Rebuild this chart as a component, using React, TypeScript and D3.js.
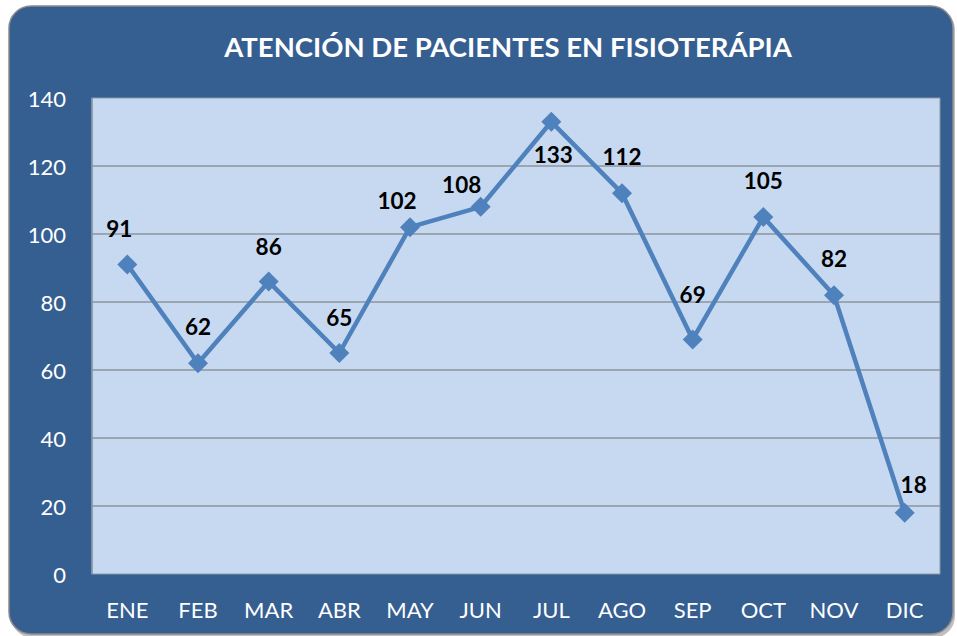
import React from "react";
import * as d3 from "d3";

const months = ["ENE", "FEB", "MAR", "ABR", "MAY", "JUN", "JUL", "AGO", "SEP", "OCT", "NOV", "DIC"];
const patients = [91, 62, 86, 65, 102, 108, 133, 112, 69, 105, 82, 18];
const yTicks = [0, 20, 40, 60, 80, 100, 120, 140];
const title = "ATENCIÓN DE PACIENTES EN FISIOTERÁPIA";

// data-label placement relative to each marker (pixels), as laid out in the original
const labelDx = [-8, 0, 0, 0, -13, -19, 2, 0, 0, 0, 0, 9];
const labelDy = [-36, -37, -35, -36, -27, -22, 33, -37, -45, -37, -37, -28];

const W = 957;
const H = 636;
const plot = { left: 92, top: 98, right: 940, bottom: 574 };

export default function App() {
  const x = d3.scaleBand<string>().domain(months).range([plot.left, plot.right]);
  const y = d3.scaleLinear().domain([0, 140]).range([plot.bottom, plot.top]);
  const cx = (m: string) => (x(m) as number) + x.bandwidth() / 2;
  const line = d3
    .line<number>()
    .x((_, i) => cx(months[i]))
    .y((d) => y(d));
  const font = "Lato, 'Open Sans', sans-serif";
  return (
    <svg
      width={W}
      height={H}
      style={{ position: "absolute", left: 0, top: 0 }}
      xmlns="http://www.w3.org/2000/svg"
    >
      <rect x={0} y={0} width={W} height={H} fill="#ffffff" />
      <rect x={11} y={8} width={944} height={630} rx={22} ry={22} fill="#7f7f7f" opacity={0.5} />
      <rect x={9} y={6} width={944} height={628} rx={22} ry={22} fill="#355e91" stroke="#8c8c8c" strokeWidth={1.5} />
      <text
        x={508}
        y={46}
        textAnchor="middle"
        dominantBaseline="central"
        fill="#ffffff"
        fontFamily={font}
        fontWeight={700}
        fontSize={27.5}
      >
        {title}
      </text>
      <rect
        x={plot.left}
        y={plot.top}
        width={plot.right - plot.left}
        height={plot.bottom - plot.top}
        fill="#c6d9f0"
        stroke="#8a98a8"
        strokeWidth={1}
      />
      {yTicks.map((t) => (
        <g key={t}>
          {t > 0 && t < 140 && (
            <line x1={plot.left} x2={plot.right} y1={y(t)} y2={y(t)} stroke="#8c959f" strokeWidth={1.3} />
          )}
          <text
            x={66}
            y={y(t)}
            textAnchor="end"
            dominantBaseline="central"
            fill="#ffffff"
            fontFamily={font}
            fontSize={22}
          >
            {t}
          </text>
        </g>
      ))}
      <line x1={plot.left} x2={plot.left} y1={plot.top} y2={plot.bottom} stroke="#8a98a8" strokeWidth={1.5} />
      {months.map((m) => (
        <text
          key={m}
          x={cx(m)}
          y={609}
          textAnchor="middle"
          dominantBaseline="central"
          fill="#ffffff"
          fontFamily={font}
          fontSize={22}
        >
          {m}
        </text>
      ))}
      <path d={line(patients) as string} fill="none" stroke="#4f81bd" strokeWidth={4.5} strokeLinejoin="round" />
      {patients.map((v, i) => {
        const px = cx(months[i]);
        const py = y(v);
        const s = 10;
        return (
          <path
            key={i}
            d={`M${px},${py - s}L${px + s},${py}L${px},${py + s}L${px - s},${py}Z`}
            fill="#4f81bd"
          />
        );
      })}
      {patients.map((v, i) => (
        <text
          key={"l" + i}
          x={cx(months[i]) + labelDx[i]}
          y={y(v) + labelDy[i]}
          textAnchor="middle"
          dominantBaseline="central"
          fill="#000000"
          fontFamily={font}
          fontWeight={700}
          fontSize={22.5}
        >
          {v}
        </text>
      ))}
    </svg>
  );
}
